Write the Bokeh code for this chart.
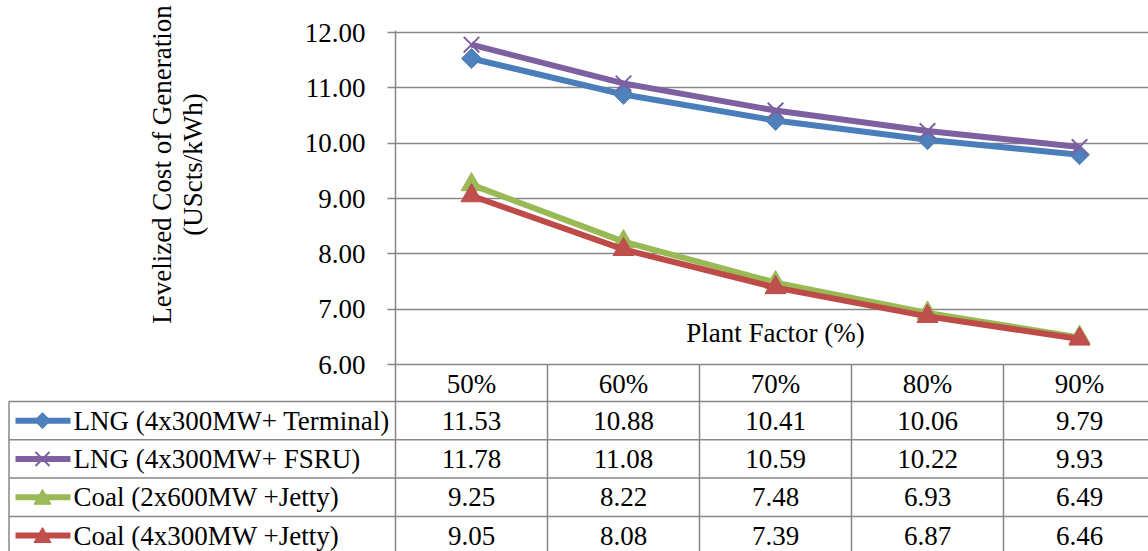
import math
from bokeh.plotting import figure
from bokeh.models import Range1d, FixedTicker, PrintfTickFormatter
from bokeh.core.properties import value
from bokeh.embed import file_html
from bokeh.resources import INLINE

# ---------------- data ----------------
categories = ["50%", "60%", "70%", "80%", "90%"]
series_names = ["LNG (4x300MW+ Terminal)", "LNG (4x300MW+ FSRU)",
                "Coal (2x600MW +Jetty)", "Coal (4x300MW +Jetty)"]
lng_terminal = [11.53, 10.88, 10.41, 10.06, 9.79]
lng_fsru = [11.78, 11.08, 10.59, 10.22, 9.93]
coal_2x600 = [9.25, 8.22, 7.48, 6.93, 6.49]
coal_4x300 = [9.05, 8.08, 7.39, 6.87, 6.46]
y_ticks = [6, 7, 8, 9, 10, 11, 12]
y_title = ["Levelized Cost of Generation", "(UScts/kWh)"]
x_title = "Plant Factor (%)"

# ---------------- layout / style ----------------
FONT = "Liberation Serif"
FS = "27px"
GRID = "#878787"
W, H = 1148, 551
AX_X = 395               # pixel x of the value axis
CAT_W = 152.0            # pixel width of a category
Y6, Y12 = 364, 32        # pixel y of 6.00 and 12.00
PPU = (Y6 - Y12) / 6.0   # pixels per unit on value axis
TOP = 30                 # frame top (pixels)

styles = [
    dict(color="#4A7EBB", fill="#4F81BD", marker="square", size=14, angle=math.pi / 4, lw=1, key="diamond"),
    dict(color="#7D60A0", fill="#7D60A0", marker="x", size=22, angle=0.0, lw=2, key="x"),
    dict(color="#98B954", fill="#9BBB59", marker="triangle", size=21, angle=0.0, lw=1, key="triangle"),
    dict(color="#BE4B48", fill="#C0504D", marker="triangle", size=21, angle=0.0, lw=1, key="triangle"),
]
all_series = [lng_terminal, lng_fsru, coal_2x600, coal_4x300]


def cx(px):
    return (px - AX_X) / CAT_W


def vy(py):
    return 6 - (py - Y6) / PPU


def dx(px):
    return px / CAT_W


def dy(px):
    return px / PPU


x_end = cx(W)

p = figure(width=W, height=H, output_backend="svg", toolbar_location=None,
           title=None, x_range=Range1d(0, x_end),
           y_range=Range1d(vy(H), vy(TOP)),
           x_axis_location=None, min_border_left=AX_X, min_border_right=0,
           min_border_top=TOP, min_border_bottom=0)
p.outline_line_color = None
p.background_fill_color = "white"
p.border_fill_color = "white"
p.xgrid.visible = False
p.ygrid.grid_line_color = GRID
p.ygrid.grid_line_width = 1.5
p.yaxis.ticker = FixedTicker(ticks=y_ticks)
p.yaxis.formatter = PrintfTickFormatter(format="%.2f")
p.yaxis.axis_line_color = GRID
p.yaxis.axis_line_width = 1.5
p.yaxis.major_tick_line_color = GRID
p.yaxis.major_tick_line_width = 1.5
p.yaxis.major_tick_out = 8
p.yaxis.major_tick_in = 0
p.yaxis.minor_tick_line_color = None
p.yaxis.major_label_standoff = 22
p.yaxis.major_label_text_font = FONT
p.yaxis.major_label_text_font_size = FS
p.yaxis.major_label_text_color = "black"

# ---------------- chart ----------------
xs = [i + 0.5 for i in range(len(categories))]
for vals, st in zip(all_series, styles):
    p.line(xs, vals, line_color=st["color"], line_width=6, line_join="round")
    p.scatter(xs, vals, marker=st["marker"], size=st["size"], angle=st["angle"],
              fill_color=st["fill"], line_color=st["color"], line_width=st["lw"])

p.text(x=[len(categories) / 2], y=[vy(332)], text=[x_title], text_font=value(FONT),
       text_font_size=value(FS), text_align="center", text_baseline="middle",
       text_color="black")

# y axis title (left of the frame)
p.text(x=[cx(161), cx(192)], y=[vy(164)] * 2, text=y_title, angle=math.pi / 2,
       text_font=value(FONT), text_font_size=value(FS), text_align="center",
       text_baseline="middle", text_color="black", level="overlay")

# ---------------- data table ----------------
HDR_TOP = Y6
HDR_BOT = 401
ROW = 38.3
row_lines = [vy(HDR_BOT + ROW * i) for i in range(4)]
p.segment(x0=[cx(8.5)] * len(row_lines), x1=[x_end] * len(row_lines),
          y0=row_lines, y1=row_lines, line_color=GRID, line_width=1.5, level="overlay")
vx = list(range(1, len(categories)))
p.segment(x0=vx, x1=vx, y0=[6] * len(vx), y1=[vy(H + 20)] * len(vx),
          line_color=GRID, line_width=1.5)
p.segment(x0=[cx(8.5)], x1=[cx(8.5)], y0=[vy(HDR_BOT)], y1=[vy(H + 20)],
          line_color=GRID, line_width=1.5, level="overlay")

p.text(x=xs, y=[vy((HDR_TOP + HDR_BOT) / 2 + 1)] * len(xs), text=categories,
       text_font=value(FONT), text_font_size=value(FS), text_align="center",
       text_baseline="middle", text_color="black")

KX = cx(42)
for r, (name, vals, st) in enumerate(zip(series_names, all_series, styles)):
    yc = vy(HDR_BOT + ROW * (r + 0.5))
    p.text(x=xs, y=[yc] * len(xs), text=["%.2f" % v for v in vals], text_font=value(FONT),
           text_font_size=value(FS), text_align="center", text_baseline="middle",
           text_color="black")
    # legend key: line + marker
    p.line([cx(15), cx(70)], [yc, yc], line_color=st["color"], line_width=6, level="overlay")
    if st["key"] == "diamond":
        p.patch([KX - dx(8), KX, KX + dx(8), KX], [yc, yc + dy(8), yc, yc - dy(8)],
                fill_color=st["fill"], line_color=st["color"], line_width=1, level="overlay")
    elif st["key"] == "triangle":
        p.patch([KX - dx(8.5), KX, KX + dx(8.5)], [yc - dy(7), yc + dy(8), yc - dy(7)],
                fill_color=st["fill"], line_color=st["color"], line_width=1, level="overlay")
    else:
        p.segment(x0=[KX - dx(7), KX - dx(7)], x1=[KX + dx(7), KX + dx(7)],
                  y0=[yc - dy(7), yc + dy(7)], y1=[yc + dy(7), yc - dy(7)],
                  line_color=st["color"], line_width=2, level="overlay")
    p.text(x=[cx(73)], y=[yc], text=[name], text_font=value(FONT),
           text_font_size=value(FS), text_align="left", text_baseline="middle",
           text_color="black", level="overlay")

open("out.html", "w").write(file_html(p, INLINE))
